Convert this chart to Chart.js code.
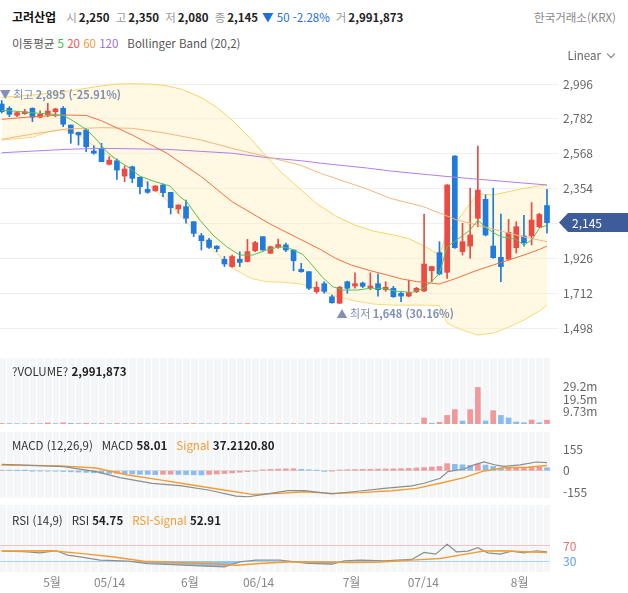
<!DOCTYPE html>
<html lang="ko">
<head>
<meta charset="utf-8">
<title>고려산업</title>
<script src="https://cdn.jsdelivr.net/npm/chart.js@4.4.1/dist/chart.umd.min.js"></script>
<style>
  body { margin: 0; width: 628px; height: 593px; overflow: hidden; position: relative; background: #fff;
         font-family: "Noto Sans CJK KR", "Noto Sans", sans-serif; font-size: 11.5px; color: #333; }
  canvas { position: absolute; left: 0; }
  .txt { position: absolute; white-space: nowrap; line-height: 18px; z-index: 2; }
  .txt b { font-weight: 700; color: #222; }
  .lb { color: #999; margin: 0 2px 0 6px; }
  .dn { color: #1e6fd9; }
  .sp { margin-left: 9px; }
  .chev { display: inline-block; width: 5px; height: 5px; border-right: 1px solid #777; border-bottom: 1px solid #777;
          transform: rotate(45deg); margin: 0 0 3px 7px; }
</style>
</head>
<body>
<div class="txt" id="quote" style="left:12px; top:8px;"></div>
<div class="txt" style="right:12px; top:8px; color:#888;">한국거래소(KRX)</div>
<div class="txt" style="left:12px; top:34px; color:#555;">이동평균 <span style="color:#3bb54a">5</span> <span style="color:#ef5350">20</span> <span style="color:#f39c4a">60</span> <span style="color:#9a6ce0">120</span><span class="sp">Bollinger Band (20,2)</span></div>
<div class="txt" style="right:14px; top:46px; color:#666;">Linear<span class="chev"></span></div>
<div class="txt" id="volTitle" style="left:12px; top:362px;"></div>
<div class="txt" id="macdTitle" style="left:12px; top:436px;"></div>
<div class="txt" id="rsiTitle" style="left:12px; top:511px;"></div>

<canvas id="price" width="628" height="288" style="top:62px"></canvas>
<canvas id="volume" width="628" height="75" style="top:350px"></canvas>
<canvas id="macd" width="628" height="74" style="top:426px"></canvas>
<canvas id="rsi" width="628" height="93" style="top:500px"></canvas>

<script>
// daily candles, oldest first
const opens = [2873, 2847, 2804, 2814, 2847, 2792, 2808, 2826, 2847, 2744,
  2699, 2714, 2585, 2601, 2503, 2525, 2431, 2488, 2423, 2349,
  2340, 2376, 2331, 2229, 2243, 2151, 2065, 2038, 2001, 1920,
  1875, 1920, 1906, 1973, 2059, 1957, 1993, 2008, 1977, 1858,
  1844, 1721, 1770, 1690, 1650, 1782, 1756, 1774, 1746, 1770,
  1733, 1742, 1711, 1694, 1721, 1725, 1850, 1961, 1840, 2554,
  1967, 2001, 2172, 2288, 2001, 1932, 1920, 1991, 2063, 2063,
  2120, 2250];
const highs = [2895, 2857, 2826, 2841, 2850, 2832, 2877, 2847, 2857, 2744,
  2701, 2724, 2617, 2632, 2550, 2537, 2492, 2492, 2423, 2396,
  2372, 2382, 2331, 2255, 2284, 2151, 2079, 2049, 2003, 1937,
  1946, 1966, 2042, 2030, 2059, 2001, 2044, 2020, 1977, 1895,
  1844, 1782, 1782, 1700, 1754, 1786, 1837, 1780, 1837, 1831,
  1782, 1754, 1721, 1792, 1748, 2197, 1877, 2028, 2378, 2556,
  2141, 2356, 2615, 2315, 2356, 2197, 2165, 2151, 2190, 2268,
  2202, 2350];
const lows = [2818, 2795, 2795, 2810, 2765, 2788, 2795, 2795, 2734, 2632,
  2621, 2580, 2566, 2519, 2499, 2411, 2396, 2390, 2321, 2325,
  2338, 2304, 2198, 2202, 2141, 2059, 1977, 1987, 1966, 1875,
  1871, 1875, 1904, 1967, 1975, 1955, 1987, 1967, 1850, 1840,
  1733, 1711, 1711, 1651, 1648, 1711, 1742, 1746, 1733, 1694,
  1723, 1686, 1659, 1690, 1715, 1721, 1782, 1824, 1803, 1987,
  1946, 1926, 2120, 2063, 1926, 1782, 1916, 1958, 2001, 2008,
  2114, 2080];
const closes = [2826, 2810, 2820, 2826, 2792, 2810, 2830, 2843, 2749, 2693,
  2683, 2611, 2571, 2519, 2529, 2468, 2474, 2417, 2366, 2331,
  2370, 2329, 2237, 2253, 2172, 2079, 2034, 1993, 1985, 1891,
  1937, 1901, 1967, 2022, 1977, 1997, 2010, 1977, 1911, 1844,
  1742, 1748, 1723, 1653, 1748, 1742, 1770, 1754, 1756, 1733,
  1748, 1690, 1694, 1715, 1742, 1891, 1875, 1830, 2376, 1991,
  2028, 2069, 2345, 2069, 1930, 1875, 2085, 2120, 2022, 2161,
  2195, 2145];
const volumes = [420000, 310000, 260000, 240000, 380000, 290000, 860000, 330000, 910000, 520000,
  340000, 560000, 300000, 450000, 280000, 400000, 350000, 310000, 370000, 260000,
  230000, 280000, 420000, 250000, 360000, 390000, 330000, 240000, 210000, 350000,
  300000, 250000, 380000, 290000, 270000, 220000, 260000, 230000, 310000, 240000,
  330000, 280000, 240000, 360000, 410000, 270000, 300000, 190000, 260000, 280000,
  210000, 250000, 230000, 290000, 270000, 4700000, 520000, 1300000, 6700000, 11200000,
  2300000, 11200000, 28500000, 2300000, 10400000, 6700000, 4700000, 1600000, 1000000, 3100000,
  1000000, 2991873];

// overlay lines: [candle index, price]
const ma5 = [[0, 2835], [1.5, 2830], [3.3, 2822], [5, 2816], [6.7, 2810], [8.2, 2800], [9.8, 2755], [11.1, 2714],
  [12.4, 2652], [13.7, 2580], [15, 2529], [16.7, 2478], [18, 2430], [20, 2396], [21.9, 2370], [23.2, 2304],
  [24.1, 2273], [25.8, 2161], [27.5, 2069], [29.3, 1997], [31, 1946], [32.7, 1946], [34.5, 1977], [36.2, 1997],
  [37.5, 1987], [39.2, 1950], [40.5, 1880], [41.8, 1808], [43.1, 1752], [44.4, 1731], [46.3, 1731], [48, 1742],
  [49.6, 1742], [51.5, 1723], [53.5, 1717], [54.9, 1742], [56.2, 1793], [57, 1834], [58, 1997], [59, 2030],
  [60, 2065], [61, 2100], [62, 2161], [63, 2115], [64, 2085], [65, 2058], [66, 2052], [67, 2040], [68, 2007],
  [69, 2038], [70, 2110], [71, 2130]];
const ma20 = [[0, 2779], [4, 2795], [8, 2806], [11, 2803], [13, 2770], [17, 2683], [21.5, 2571], [26, 2427],
  [30, 2273], [35, 2135], [39, 2040], [41.5, 1980], [43.5, 1925], [45.5, 1885], [48, 1850], [50, 1826],
  [52, 1800], [54, 1783], [57, 1768], [59, 1800], [62, 1854], [64, 1885], [66, 1915], [68, 1946], [70, 1980], [71, 2001]];
const ma60 = [[0, 2656], [4, 2689], [8.5, 2720], [13, 2728], [17, 2724], [21.5, 2693], [26, 2652], [30, 2601],
  [34.5, 2550], [39, 2496], [41.5, 2448], [47.6, 2351], [50.6, 2294], [54.9, 2243], [59.3, 2161], [63.6, 2110],
  [67.9, 2058], [71, 2028]];
const ma120 = [[0, 2574], [8.5, 2595], [13, 2601], [21.5, 2595], [30, 2571], [34.5, 2544], [39, 2525], [41.5, 2510],
  [47.6, 2480], [50.6, 2462], [56, 2437], [60.6, 2417], [64.9, 2400], [71, 2376]];

// bollinger band (20,2), upper and lower read at the same candle positions
const bbIdx = [0, 4, 6, 8, 10, 13, 15, 17, 19.5, 21.5, 23.5, 26, 28, 30, 32.5, 34.5, 36.5, 39, 41, 43.5, 46, 48.5,
  51, 53, 55, 57, 58, 59, 60, 61, 62, 64, 66, 68, 70, 71];
const bbUpper = [2914, 2928, 2938, 2947, 2962, 2985, 2996, 2998, 2995, 2985, 2963, 2913, 2852, 2775, 2655, 2550,
  2450, 2345, 2262, 2185, 2130, 2092, 2069, 2047, 2001, 1946, 2089, 2136, 2200, 2264, 2321, 2315, 2335, 2356, 2370, 2376];
const bbLower = [2652, 2669, 2701, 2718, 2683, 2582, 2529, 2471, 2360, 2284, 2176, 2057, 1956, 1866, 1803, 1782,
  1780, 1768, 1740, 1694, 1664, 1645, 1639, 1639, 1639, 1636, 1529, 1505, 1486, 1470, 1455, 1467, 1504, 1547, 1602, 1639];

// MACD (12,26,9)
const macdLine = [[0, 46], [8.1, 29], [12.3, -7], [15.4, -50], [19.6, -90], [23.2, -107], [26.9, -138], [30.5, -181],
  [32.1, -186], [34.2, -169], [37.3, -143], [39.4, -143], [43, -166], [46.7, -145], [49.8, -126], [53.4, -109],
  [55, -90], [57.1, -54], [58.1, -7], [60.2, 12], [61.5, 41], [62.8, 62], [64.4, 39], [65.4, 31], [67.5, 41],
  [69.6, 62], [71, 58.01]];
const macdSignal = [[0, 41], [7.6, 34], [12.3, 19], [16.4, -31], [20.6, -66], [24.8, -102], [28.9, -138], [32.6, -169],
  [36.2, -162], [39.4, -150], [43, -162], [46.7, -157], [50.8, -143], [54, -126], [57.1, -90], [60.2, -50],
  [62.8, -2], [65.4, 21], [68.5, 24], [71, 37.21]];
const macdHist = [4, 3, 2, 1, -1, -2, -3, -4, -6, -8,
  -10, -12, -15, -18, -20, -19, -22, -24, -26, -27,
  -28, -26, -25, -27, -28, -29, -30, -27, -24, -20,
  -16, -11, -7, -3, 6, 9, 11, 13, 14, 10,
  6, 2, -5, -2, 5, 7, 8, 9, 10, 11,
  12, 13, 14, 16, 19, 22, 26, 30, 50, 45,
  42, 38, 47, 40, 30, 19, 20, 21, 22, 23,
  24, 20.80];

// RSI (14,9)
const rsiLine = [[0, 56.7], [2.9, 54.8], [5, 52], [7.1, 57.5], [8.6, 46], [10.2, 41.5], [12.8, 32.7], [16.5, 30],
  [19, 23.8], [22.2, 21], [25.8, 17.5], [29, 14.8], [31, 28], [33.1, 32.7], [36.2, 32.7], [39.9, 24], [43, 22],
  [44.6, 30.8], [46.7, 32.7], [49.8, 30.8], [53.4, 34.5], [55, 53], [56.5, 48.7], [58, 74.5], [59.2, 54.8],
  [60.7, 56.7], [62, 65.5], [63.3, 52], [64.9, 48.7], [66.4, 56.7], [68, 52], [69.6, 57.5], [71, 54.75]];
const rsiSignal = [[0, 56.7], [6.5, 57.5], [10.2, 50.5], [14.4, 41.5], [18.5, 30], [23.2, 26.5], [26.9, 23.8],
  [30.5, 19.3], [33.6, 23.8], [37.3, 28], [41.4, 28], [45.6, 26.5], [49.3, 28], [53.4, 32.7], [57.1, 37.1],
  [60.2, 47.8], [62.8, 56.7], [65.4, 57.5], [68, 54.8], [71, 52.91]];

// axis ticks
const priceTicks = [1498, 1712, 1926, 2140, 2354, 2568, 2782, 2996];
const volTicks = [9.73e6, 19.46e6, 29.19e6];
const macdTicks = [-155, 0, 155];
const rsiTicks = [30, 70];
const xTickPos = [6.55, 14.05, 24.5, 33.45, 45.55, 54.9, 67.45];
const xTickLabels = ['5월', '05/14', '6월', '06/14', '7월', '07/14', '8월'];

const FONT = '"Noto Sans CJK KR", "Noto Sans", sans-serif';
const RED = '#ec4a43', BLUE = '#1f7bdc';
const PINK = 'rgba(240, 130, 130, 0.8)', SKY = 'rgba(110, 175, 240, 0.8)';
const PX_PER_CANDLE = 7.68;
const X_MIN = -1.7 / PX_PER_CANDLE; // first candle sits 1.7px in

const fmt = v => v.toLocaleString('en-US');
const pts = arr => arr.map(([x, y]) => ({ x, y }));
const last = closes.length - 1;
const up = closes.map((c, i) => c >= opens[i]);

Chart.defaults.font.family = FONT;
Chart.defaults.animation = false;

// ---- header texts built from the data ----
const prevClose = closes[last - 1];
const chg = closes[last] - prevClose;
document.getElementById('quote').innerHTML =
  '<b style="font-size:12px;color:#111">고려산업</b><span style="margin-left:4px"></span>' +
  '<span class="lb">시</span><b>' + fmt(opens[last]) + '</b>' +
  '<span class="lb">고</span><b>' + fmt(highs[last]) + '</b>' +
  '<span class="lb">저</span><b>' + fmt(lows[last]) + '</b>' +
  '<span class="lb">종</span><b>' + fmt(closes[last]) + '</b>' +
  '<span class="dn" style="margin-left:4px">' + (chg < 0 ? '▼' : '▲') + ' ' + fmt(Math.abs(chg)) + ' ' +
  (chg / prevClose * 100).toFixed(2) + '%</span>' +
  '<span class="lb">거</span><b>' + fmt(volumes[last]) + '</b>';
document.getElementById('volTitle').innerHTML = '?VOLUME? <b>' + fmt(volumes[last]) + '</b>';
const lastMacd = macdLine[macdLine.length - 1][1], lastSig = macdSignal[macdSignal.length - 1][1];
document.getElementById('macdTitle').innerHTML = 'MACD (12,26,9)<span class="sp">MACD</span> <b>' + lastMacd.toFixed(2) +
  '</b><span class="sp" style="color:#f39c32">Signal</span> <b>' + lastSig.toFixed(2) + macdHist[last].toFixed(2) + '</b>';
document.getElementById('rsiTitle').innerHTML = 'RSI (14,9)<span class="sp">RSI</span> <b>' + rsiLine[rsiLine.length - 1][1].toFixed(2) +
  '</b><span class="sp" style="color:#f39c32">RSI-Signal</span> <b>' + rsiSignal[rsiSignal.length - 1][1].toFixed(2) + '</b>';

// ---- plugins ----
// grey panel with a white stripe between candles
const panelBg = {
  id: 'panelBg',
  beforeDraw(chart) {
    const { ctx, chartArea: a, scales: { x } } = chart;
    ctx.save();
    ctx.fillStyle = '#f5f6f8';
    ctx.fillRect(a.left, a.top, a.right - a.left, a.bottom - a.top);
    ctx.strokeStyle = '#ffffff';
    ctx.lineWidth = 1;
    for (let i = -1; i <= last; i++) {
      const px = Math.round(x.getPixelForValue(i + 0.5)) + 0.5;
      if (px < a.left || px > a.right) continue;
      ctx.beginPath();
      ctx.moveTo(px, a.top);
      ctx.lineTo(px, a.bottom);
      ctx.stroke();
    }
    ctx.restore();
  }
};

function labelPair(ctx, x, y, head, tail) {
  ctx.fillStyle = '#8090b6';
  ctx.font = '11px ' + FONT;
  ctx.fillText(head, x, y);
  const w = ctx.measureText(head).width;
  ctx.font = 'bold 11px ' + FONT;
  ctx.fillText(tail, x + w, y);
}

// high / low notes and the last price tag
const priceMarks = {
  id: 'priceMarks',
  afterDatasetsDraw(chart) {
    const { ctx, chartArea: a, scales: { x, y } } = chart;
    const lastClose = closes[last];
    const hi = Math.max(...highs), lo = Math.min(...lows);
    const hiIdx = highs.indexOf(hi), loIdx = lows.indexOf(lo);
    const pct = v => ((lastClose - v) / v * 100).toFixed(2);
    ctx.save();
    ctx.textBaseline = 'middle';
    ctx.textAlign = 'left';
    labelPair(ctx, x.getPixelForValue(hiIdx) - 2, y.getPixelForValue(hi) - 6, '▼ 최고 ', fmt(hi) + ' (' + pct(hi) + '%)');
    labelPair(ctx, x.getPixelForValue(loIdx) - 3, y.getPixelForValue(lo) + 10, '▲ 최저 ', fmt(lo) + ' (' + pct(lo) + '%)');

    const ty = y.getPixelForValue(lastClose);
    ctx.fillStyle = '#3e5b9a';
    ctx.beginPath();
    ctx.moveTo(a.right + 1, ty);
    ctx.lineTo(a.right + 10, ty - 9.5);
    ctx.lineTo(chart.width, ty - 9.5);
    ctx.lineTo(chart.width, ty + 9.5);
    ctx.lineTo(a.right + 10, ty + 9.5);
    ctx.closePath();
    ctx.fill();
    ctx.fillStyle = '#ffffff';
    ctx.font = '12px ' + FONT;
    ctx.fillText(fmt(lastClose), a.right + 14, ty + 0.5);
    ctx.restore();
  }
};

function line(data, color, order, extra) {
  return Object.assign({ type: 'line', data: pts(data), borderColor: color, borderWidth: 1,
    pointRadius: 0, tension: 0, fill: false, order }, extra || {});
}

// keep the label half-heights from eating into the plot area
const noPad = s => { s.paddingTop = 0; s.paddingBottom = 0; s.paddingLeft = 0; s.paddingRight = 0; };

function rightAxis(min, max, ticks, width, opts) {
  return Object.assign({
    position: 'right', min, max,
    afterBuildTicks: s => { s.ticks = ticks.map(v => ({ value: v })); },
    afterFit: s => { s.width = width; noPad(s); },
    border: { display: false },
    grid: { display: false, drawTicks: false },
    ticks: { padding: 13, color: '#666', font: { size: 12 } }
  }, opts || {});
}

const baseOptions = (right, padding, yAxis, xAxis) => ({
  responsive: false,
  maintainAspectRatio: false,
  events: [],
  layout: { padding },
  plugins: { legend: { display: false }, tooltip: { enabled: false } },
  scales: {
    x: Object.assign({ type: 'linear', min: X_MIN, max: X_MIN + right / PX_PER_CANDLE, offset: false, display: false }, xAxis || {}),
    y: yAxis
  }
});

// ---- price chart ----
const candleColors = up.map(u => u ? RED : BLUE);
new Chart(document.getElementById('price'), {
  type: 'bar',
  data: {
    datasets: [
      line(ma5, '#56c05a', 1),
      line(ma20, '#f26f40', 1),
      line(ma60, '#f6b57e', 2),
      line(ma120, '#b07fe8', 2),
      line(bbIdx.map((v, i) => [v, bbUpper[i]]), '#f7d46a', 10, { fill: '+1', backgroundColor: 'rgba(255, 238, 185, 0.42)' }),
      line(bbIdx.map((v, i) => [v, bbLower[i]]), '#f7d46a', 10),
      { data: closes.map((_, i) => ({ x: i, y: [lows[i], highs[i]] })), backgroundColor: candleColors,
        barThickness: 1, grouped: false, order: 6 },
      { data: closes.map((_, i) => ({ x: i, y: [opens[i], closes[i]] })), backgroundColor: candleColors,
        barThickness: 5, minBarLength: 1, grouped: false, order: 5 }
    ]
  },
  options: baseOptions(558, { top: 8, left: 0, right: 0, bottom: 0 },
    rightAxis(1363, 3082, priceTicks, 70, {
      grid: { color: '#efefef', drawTicks: false },
      ticks: { padding: 5, color: '#666', font: { size: 12 }, callback: v => fmt(v) }
    })),
  plugins: [priceMarks]
});

// ---- volume ----
const volColors = volumes.map((v, i) => i > 0 && v < volumes[i - 1] ? SKY : PINK);
new Chart(document.getElementById('volume'), {
  type: 'bar',
  data: { datasets: [{ data: volumes.map((v, i) => ({ x: i, y: v })), backgroundColor: volColors,
    barThickness: 5, grouped: false }] },
  options: baseOptions(550, { top: 8, left: 0, right: 0, bottom: 1 },
    rightAxis(0, 51.4e6, volTicks, 78, {
      ticks: { padding: 13, color: '#666', font: { size: 12 }, callback: v => (v / 1e6).toPrecision(3) + 'm' }
    })),
  plugins: [panelBg]
});

// ---- MACD ----
const histColors = macdHist.map((v, i) => i > 0 && v < macdHist[i - 1] ? SKY : PINK);
new Chart(document.getElementById('macd'), {
  type: 'bar',
  data: {
    datasets: [
      line(macdLine, '#8c8c8c', 1, { borderWidth: 1.2 }),
      line(macdSignal, '#f39c32', 1, { borderWidth: 1.4 }),
      { data: macdHist.map((v, i) => ({ x: i, y: v })), backgroundColor: histColors, barThickness: 5, grouped: false, order: 3 }
    ]
  },
  options: baseOptions(550, { top: 6, left: 0, right: 0, bottom: 2 },
    rightAxis(-195, 276, macdTicks, 78, {
      grid: { drawTicks: false, color: c => c.tick && c.tick.value === 0 ? '#dcdcdc' : 'rgba(0,0,0,0)' }
    })),
  plugins: [panelBg]
});

// ---- RSI ----
new Chart(document.getElementById('rsi'), {
  type: 'line',
  data: {
    datasets: [
      line(rsiLine, '#8f8f8f', 2, { borderWidth: 1.2,
        fill: { target: { value: 30 }, above: 'rgba(0,0,0,0)', below: 'rgba(100, 168, 240, 0.7)' } }),
      line(rsiSignal, '#f39c32', 1, { borderWidth: 1.4 })
    ]
  },
  options: baseOptions(550, { top: 5, left: 0, right: 0, bottom: 0 },
    rightAxis(1.5, 178, rsiTicks, 78, {
      grid: { drawTicks: false, color: c => !c.tick ? 'rgba(0,0,0,0)' : c.tick.value === 70 ? '#f5c0c0' : '#b9d8f6' },
      ticks: { padding: 13, font: { size: 12 }, color: c => c.tick.value === 70 ? '#e57373' : '#5aa2e6' }
    }),
    {
      display: true,
      position: 'bottom',
      afterBuildTicks: s => { s.ticks = xTickPos.map(v => ({ value: v })); },
      afterFit: s => { s.height = 21; noPad(s); },
      grid: { display: false, drawTicks: false },
      border: { display: false },
      ticks: { autoSkip: false, maxRotation: 0, padding: 3, color: '#888', font: { size: 12 },
        callback: (v, i) => xTickLabels[i] }
    }),
  plugins: [panelBg]
});
</script>
</body>
</html>
